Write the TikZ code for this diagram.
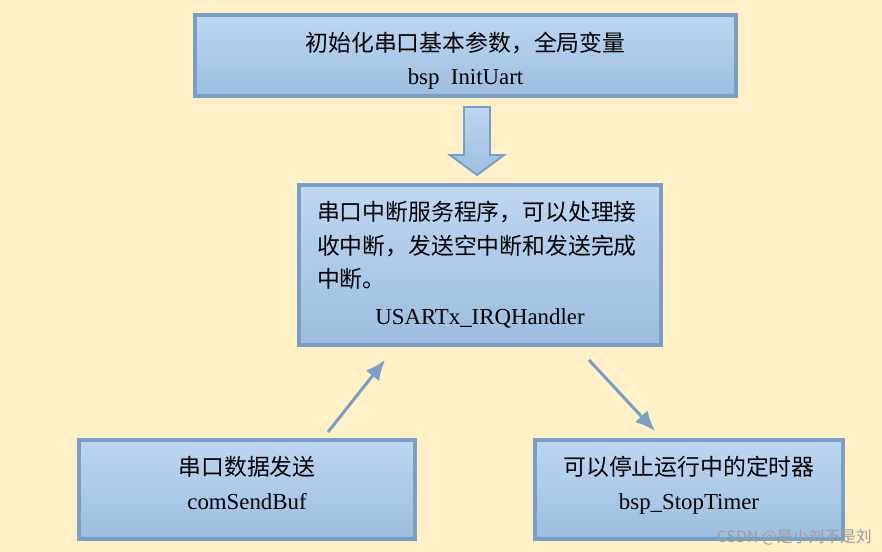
\documentclass[tikz,border=0pt]{standalone}
\usepackage{fontspec}
\setmainfont{Liberation Serif}
\newfontfamily\cjk{Noto Sans CJK SC}
\usetikzlibrary{arrows.meta,calc}
\definecolor{uartbg}{RGB}{255,240,200}
\definecolor{uartedge}{RGB}{122,159,197}
\definecolor{uarttop}{RGB}{190,215,241}
\definecolor{uartbot}{RGB}{156,189,224}
\tikzset{
  uartbase/.style={font=\fontsize{13}{19}\selectfont, line join=miter},
  uartbox/.style={draw=uartedge,line width=2.3pt,top color=uarttop,bottom color=uartbot,align=center,inner sep=0pt},
  uartline/.style={draw=uartedge,line width=1.7pt,-{Latex[length=4mm,width=3.4mm]}},
  uartbig/.style={draw=uartedge,line width=1.1pt,top color=uarttop,bottom color=uartbot},
  uartmark/.style={font=\cjk\fontsize{9}{9}\selectfont,text=black!38,anchor=east}
}

\begin{document}
\begin{tikzpicture}[uartbase]
\useasboundingbox (0,0) rectangle (17.64,-11.04);
\fill[uartbg] (0,0) rectangle (17.64,-11.04);
\node[uartbox,minimum width=10.82cm,minimum height=1.62cm] (init) at (9.31,-1.11) {\rule{0pt}{17pt}{\cjk 初始化串口基本参数，全局变量}\\bsp\ \ InitUart};
\node[uartbox,minimum width=7.24cm,minimum height=3.2cm,text width=6.52cm,align=left] (isr) at (9.6,-5.3) {{\cjk 串口中断服务程序，可以处理接}\\{\cjk 收中断，发送空中断和发送完成}\\{\cjk 中断。}\\[2pt]\makebox[6.52cm]{USARTx\_IRQHandler}};
\node[uartbox,minimum width=6.72cm,minimum height=1.98cm] (send) at (4.94,-9.79) {{\cjk 串口数据发送}\\comSendBuf\rule[-7.5pt]{0pt}{1pt}};
\node[uartbox,minimum width=6.16cm,minimum height=1.98cm] (stop) at (13.78,-9.79) {{\cjk 可以停止运行中的定时器}\\bsp\_StopTimer\rule[-7.5pt]{0pt}{1pt}};
% block arrow between the top two boxes
\coordinate (down) at ($(init.south)+(.23,-.18)$);
\draw[uartbig] ($(down)+(-.26,0)$) -- ++(.52,0) -- ++(0,-.96) -- ++(.28,0) -- ($(down)+(0,-1.36)$) -- ($(down)+(-.54,-.96)$) -- ++(.28,0) -- cycle;
% thin arrows
\coordinate (sendout) at (6.56,-8.64);
\coordinate (isrin) at (7.7,-7.2);
\coordinate (isrout) at (11.78,-7.2);
\coordinate (stopin) at (13.1,-8.62);
\draw[uartline] (sendout) -- (isrin);
\draw[uartline] (isrout) -- (stopin);
\node[uartmark] (mark) at (17.56,-10.74) {CSDN @是小刘不是刘};
\end{tikzpicture}
\end{document}
